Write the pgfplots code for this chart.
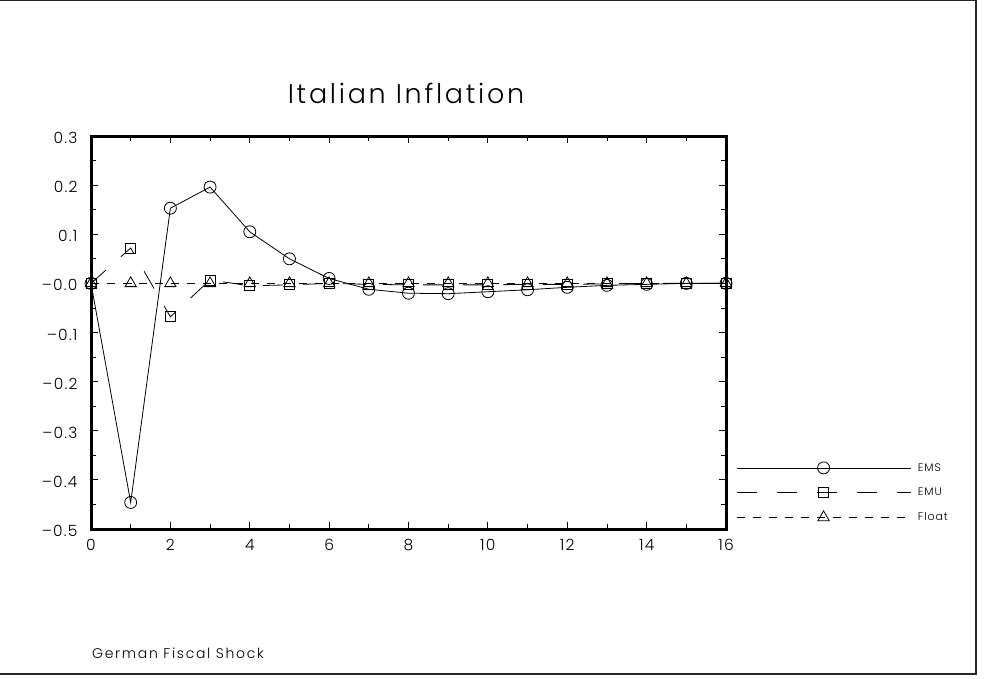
\documentclass[border=0pt]{standalone}
\usepackage{fontspec}
\setmainfont{Poppins Light}
\usepackage{pgfplots}
\pgfplotsset{compat=1.18}
\begin{document}
\begin{tikzpicture}[x=1pt,y=1pt]
\path[use as bounding box] (0,0) rectangle (984,678);
\draw[line width=1.5pt, black!85] (0,677.3) -- (976,677.3) -- (976,4) -- (0,4);
\node[anchor=base, inner sep=0pt, font=\fontsize{27}{30}\selectfont\addfontfeatures{LetterSpace=10}] at (406,574) {Italian Inflation};
\node[anchor=base west, inner sep=0pt, font=\fontsize{14}{16}\selectfont\addfontfeatures{LetterSpace=12}] at (92,20) {German Fiscal Shock};
\begin{axis}[
  at={(91pt,149pt)}, anchor=south west,
  scale only axis, width=635pt, height=393pt,
  xmin=0, xmax=16, ymin=-0.5, ymax=0.3,
  xtick={0,2,...,16}, xticklabels={0,2,4,6,8,10,12,14,16},
  minor x tick num=1,
  ytick={-0.5,-0.4,...,0.31},
  yticklabels={–0.5,–0.4,–0.3,–0.2,–0.1,–0.0,0.1,0.2,0.3},
  minor y tick num=1,
  axis line style={line width=3pt},
  tick style={black, line width=0.8pt},
  major tick length=7pt, minor tick length=5pt,
  ticklabel style={font=\fontsize{15.5}{17}\selectfont\addfontfeatures{LetterSpace=8}},
  xticklabel style={yshift=-7pt},
  yticklabel style={xshift=-10pt, yshift=-2pt},
  clip=false,
  legend cell align=left,
  legend style={draw=none, fill=none, inner sep=0pt, anchor=west,
    at={(1.0157,0.094)}, row sep=13.5pt, column sep=7pt,
    font=\fontsize{11}{12}\selectfont\addfontfeatures{LetterSpace=8},
    nodes={inner sep=0pt}},
  legend image code/.code={
    \draw[#1] (0pt,0pt) -- (174pt,0pt);
    \draw[#1, solid] plot coordinates {(87pt,0pt)};
  },
]
\addplot[black, line width=0.8pt, mark=o, mark size=6pt, mark options={solid}] coordinates {
 (0,0) (1,-0.446) (2,0.153) (3,0.196) (4,0.105) (5,0.05) (6,0.01) (7,-0.012)
 (8,-0.020) (9,-0.021) (10,-0.017) (11,-0.013) (12,-0.008) (13,-0.004) (14,-0.002) (15,0) (16,0)};
\addlegendentry{EMS}
\addplot[black, line width=0.8pt, dash pattern=on 20pt off 20pt, mark=square, mark size=5pt, mark options={solid}] coordinates {
 (0,0) (1,0.072) (2,-0.068) (3,0.007) (4,-0.005) (5,-0.003) (6,0) (7,-0.002)
 (8,-0.003) (9,-0.003) (10,-0.003) (11,-0.002) (12,-0.002) (13,-0.001) (14,0) (15,0) (16,0)};
\addlegendentry{EMU}
\addplot[black, line width=0.8pt, dash pattern=on 8pt off 8pt, mark=triangle, mark size=6.5pt, mark options={solid}] coordinates {
 (0,0) (1,0) (2,0) (3,0) (4,0) (5,0) (6,0) (7,0)
 (8,0) (9,0) (10,0) (11,0) (12,0) (13,0) (14,0) (15,0) (16,0)};
\addlegendentry{Float}
\draw[line width=3pt, line join=miter] (rel axis cs:0,0) rectangle (rel axis cs:1,1);
\end{axis}
\end{tikzpicture}
\end{document}
